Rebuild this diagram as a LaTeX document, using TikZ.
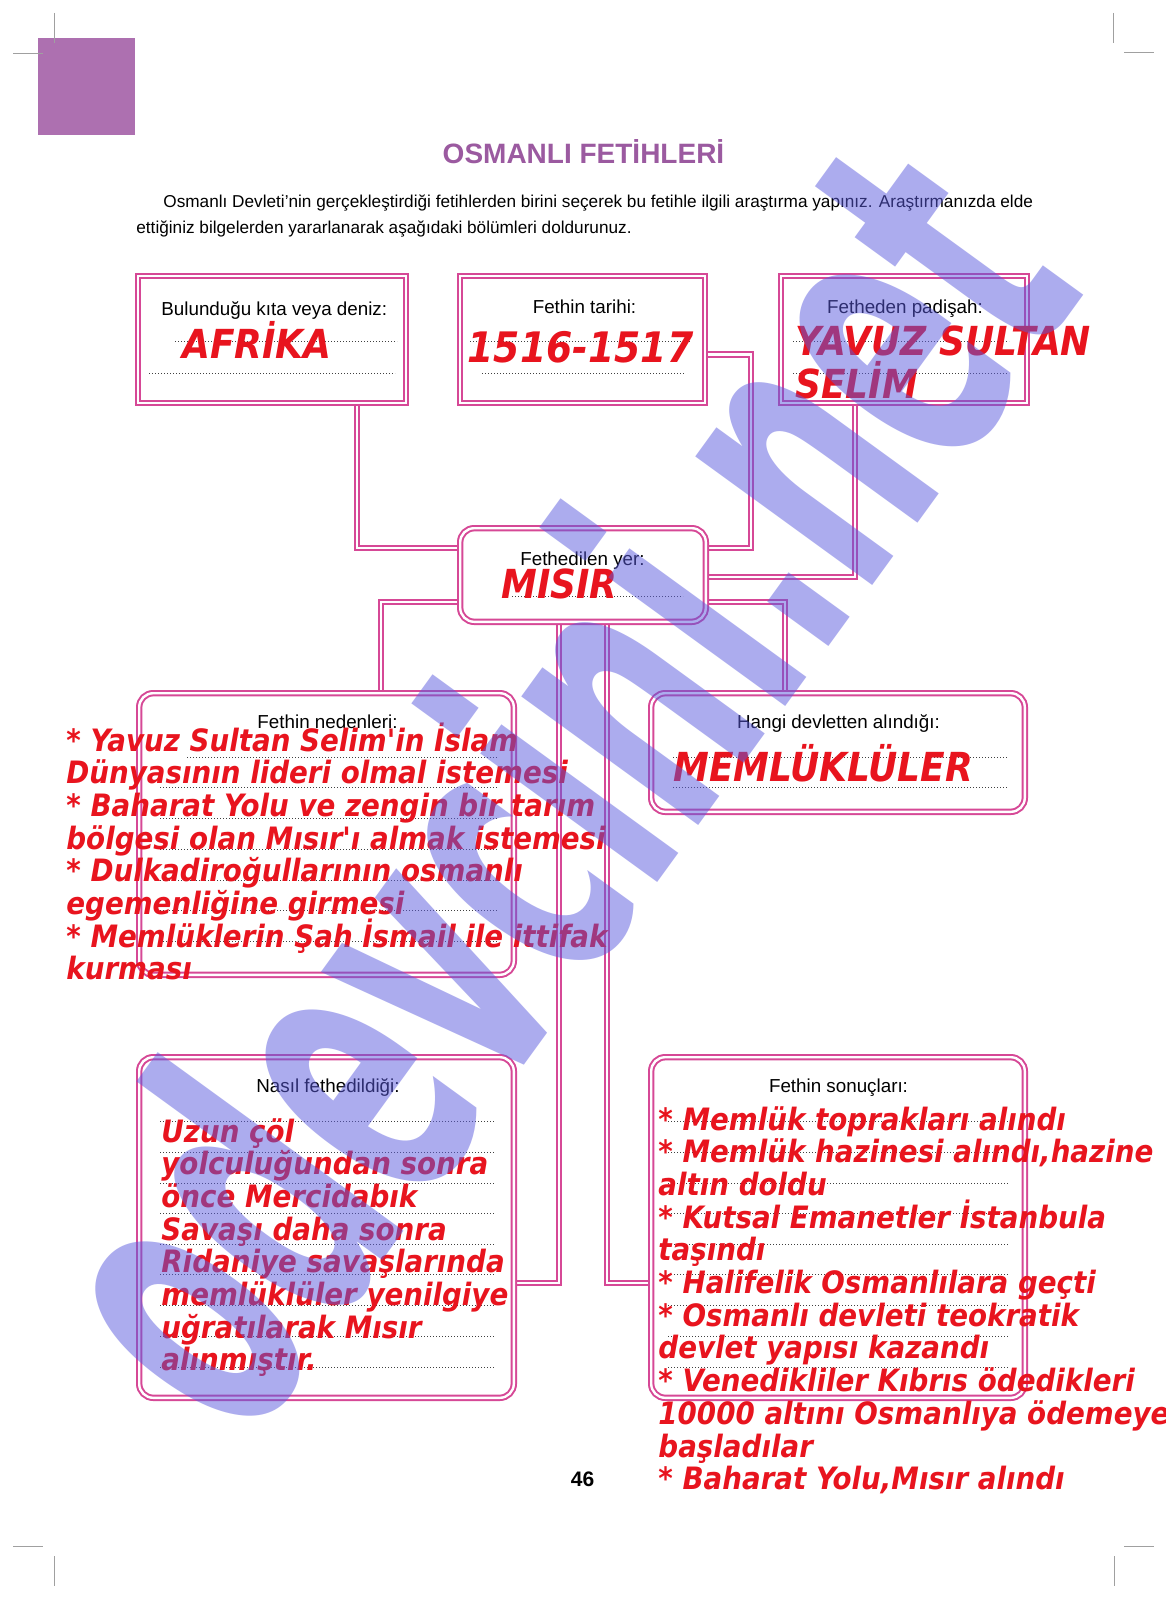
\documentclass[tikz,border=0pt]{standalone}
\usepackage{fontspec}
\setmainfont{Liberation Sans}
\newfontfamily\redfont{DejaVu Sans Bold Oblique}[FakeStretch=0.9]
\newfontfamily\markfont{DejaVu Sans Bold}
\usetikzlibrary{backgrounds}

\definecolor{pinkline}{RGB}{214,72,150}
\definecolor{redtxt}{RGB}{232,20,30}
\definecolor{titlepurple}{RGB}{155,90,160}
\definecolor{squarepurple}{RGB}{173,112,176}
\definecolor{markblue}{RGB}{90,90,222}
\definecolor{cropgray}{RGB}{160,160,160}

\begin{document}
\begin{tikzpicture}[x=0.5pt, y=-0.5pt,
    frame/.style={draw=pinkline, line width=1pt, double=white, double distance=1.2pt,
                  fill=white, inner sep=0pt},
    sqbox/.style={frame},
    rbox/.style={frame, rounded corners=7pt},
    link/.style={draw=pinkline, line width=1pt, double=white, double distance=1.2pt},
    lbl/.style={font=\fontsize{9.4}{11}\selectfont, anchor=base, inner sep=0pt},
    intro/.style={font=\fontsize{8.6}{10}\selectfont, anchor=base west, inner sep=0pt},
    ans/.style={font=\redfont\fontsize{20}{24}\selectfont, text=redtxt, anchor=base west, inner sep=0pt},
    txt/.style={font=\redfont\fontsize{15.4}{18}\selectfont, text=redtxt, anchor=base west, inner sep=0pt},
    dots/.style={draw=black!75, line width=0.4pt, dash pattern=on 0.4pt off 1.1pt},
    crop/.style={draw=cropgray, line width=0.5pt}]

    \useasboundingbox (0,0) rectangle (1166,1600);

    % page corner
    \fill[squarepurple] (38,38) rectangle (135,135);

    % heading and task
    \node[font=\bfseries\fontsize{14}{16}\selectfont, text=titlepurple, anchor=base, inner sep=0pt]
        (title) at (583.5,163) {OSMANLI FETİHLERİ};
    \node[intro] (intro1) at (163,207) {Osmanlı Devleti'nin gerçekleştirdiği fetihlerden birini seçerek bu fetihle ilgili araştırma yapınız. Araştırmanızda elde};
    \node[intro] (intro2) at (136,233) {ettiğiniz bilgelerden yararlanarak aşağıdaki bölümleri doldurunuz.};

    % boxes
    \node[sqbox, minimum width=133.8pt, minimum height=63.3pt] (kita)    at (272,339.5)   {};
    \node[sqbox, minimum width=122.3pt, minimum height=63.3pt] (tarih)   at (582.5,339.5) {};
    \node[sqbox, minimum width=122.8pt, minimum height=63.3pt] (padisah) at (904,339.5)   {};
    \node[rbox, minimum width=122.8pt, minimum height=46.8pt]  (yer)     at (583,575)     {};
    \node[rbox, minimum width=187.3pt, minimum height=140.8pt] (neden)   at (326.5,834)   {};
    \node[rbox, minimum width=186.8pt, minimum height=59.3pt]  (devlet)  at (838,752.5)   {};
    \node[rbox, minimum width=187.3pt, minimum height=170.3pt] (nasil)   at (326.5,1227.5){};
    \node[rbox, minimum width=186.8pt, minimum height=170.3pt] (sonuc)   at (838,1227.5)  {};

    % connectors, kept under the boxes
    \begin{scope}[on background layer]
        \fill[white] (0,0) rectangle (1166,1600);
        \draw[link] (kita.south -| 357,0) |- (yer.west |- 0,548);
        \draw[link] (tarih.east |- 0,354.5) -| (751,548) -- (yer.east |- 0,548);
        \draw[link] (padisah.south -| 855,0) |- (yer.east |- 0,577);
        \draw[link] (yer.west |- 0,602) -| (neden.north -| 381,0);
        \draw[link] (yer.east |- 0,602) -| (devlet.north -| 785,0);
        \draw[link] (yer.south -| 559,0) |- (nasil.east |- 0,1283);
        \draw[link] (yer.south -| 607,0) |- (sonuc.west |- 0,1283);
    \end{scope}

    % writing lines
    \foreach \y/\a/\b in {341/175/397, 373/149/395, 341/470/690, 373/482/685,
                          341/793/1009, 373/793/1009, 596/512/683, 757/187/497,
                          757/673/1008, 787/673/1008}
        \draw[dots] (\a,\y) -- (\b,\y);
    \foreach \y in {787,818,849,880,910,941}
        \draw[dots] (160,\y) -- (497,\y);
    \foreach \y in {1121,1152,1183,1213,1244,1274.5,1305.5,1336,1367} {
        \draw[dots] (160,\y) -- (495,\y);
        \draw[dots] (668,\y) -- (1009,\y);
    }

    % box titles
    \node[lbl, anchor=base west] (kitalbl) at (161,315) {Bulunduğu kıta veya deniz:};
    \node[lbl] (tarihlbl)   at (584.5,313) {Fethin tarihi:};
    \node[lbl] (padisahlbl) at (905,313)   {Fetheden padişah:};
    \node[lbl] (yerlbl)     at (582.5,565) {Fethedilen yer:};
    \node[lbl] (nedenlbl)   at (327.5,728) {Fethin nedenleri:};
    \node[lbl] (devletlbl)  at (838.5,728) {Hangi devletten alındığı:};
    \node[lbl] (nasillbl)   at (328,1092)  {Nasıl fethedildiği:};
    \node[lbl] (sonuclbl)   at (838.5,1092){Fethin sonuçları:};

    % answers
    \node[ans] (kitaans)    at (182,358) {AFRİKA};
    \node[ans, font=\redfont\fontsize{21}{24}\selectfont] (tarihans) at (467,362) {1516-1517};
    \node[ans] (padisahans) at (795,355) {YAVUZ SULTAN};
    \node[ans] (padisahans2) at (795,398) {SELİM};
    \node[ans] (yerans)     at (501,598) {MISIR};
    \node[ans] (devletans)  at (673,781) {MEMLÜKLÜLER};

    \foreach \t [count=\i] in {{* Yavuz Sultan Selim'in İslam}, {Dünyasının lideri olmal istemesi},
            {* Baharat Yolu ve zengin bir tarım}, {bölgesi olan Mısır'ı almak istemesi},
            {* Dulkadiroğullarının osmanlı}, {egemenliğine girmesi},
            {* Memlüklerin Şah İsmail ile ittifak}, {kurması}}
        \node[txt] (neden-\i) at (66,{751+32.7*(\i-1)}) {\t};

    \foreach \t [count=\i] in {{Uzun çöl}, {yolculuğundan sonra}, {önce Mercidabık},
            {Savaşı daha sonra}, {Ridaniye savaşlarında}, {memlüklüler yenilgiye},
            {uğratılarak Mısır}, {alınmıştır.}}
        \node[txt] (nasil-\i) at (161,{1142+32.7*(\i-1)}) {\t};

    \foreach \t [count=\i] in {{* Memlük toprakları alındı}, {* Memlük hazinesi alındı,hazine},
            {altın doldu}, {* Kutsal Emanetler İstanbula}, {taşındı},
            {* Halifelik Osmanlılara geçti}, {* Osmanlı devleti teokratik},
            {devlet yapısı kazandı}, {* Venedikliler Kıbrıs ödedikleri},
            {10000 altını Osmanlıya ödemeye}, {başladılar}, {* Baharat Yolu,Mısır alındı}}
        \node[txt] (sonuc-\i) at (658,{1130+32.7*(\i-1)}) {\t};

    % page number
    \node[font=\bfseries\fontsize{10.5}{12}\selectfont, anchor=base, inner sep=0pt] (page) at (582.5,1486) {46};

    % watermark
    \begin{scope}[shift={(546,782)}, rotate=54, xscale=0.515]
        \node[transform shape, font=\markfont\fontsize{200}{200}\selectfont, text=markblue,
              text opacity=0.5, inner sep=0pt] (mark) at (0,0) {odevcini.net};
    \end{scope}

    % crop marks
    \draw[crop] (54,13) -- (54,43) (13,54) -- (43,54);
    \draw[crop] (1113,13) -- (1113,43) (1124,53) -- (1154,53);
    \draw[crop] (13,1546) -- (43,1546) (54,1556) -- (54,1586);
    \draw[crop] (1124,1546) -- (1154,1546) (1114,1556) -- (1114,1586);
\end{tikzpicture}
\end{document}
